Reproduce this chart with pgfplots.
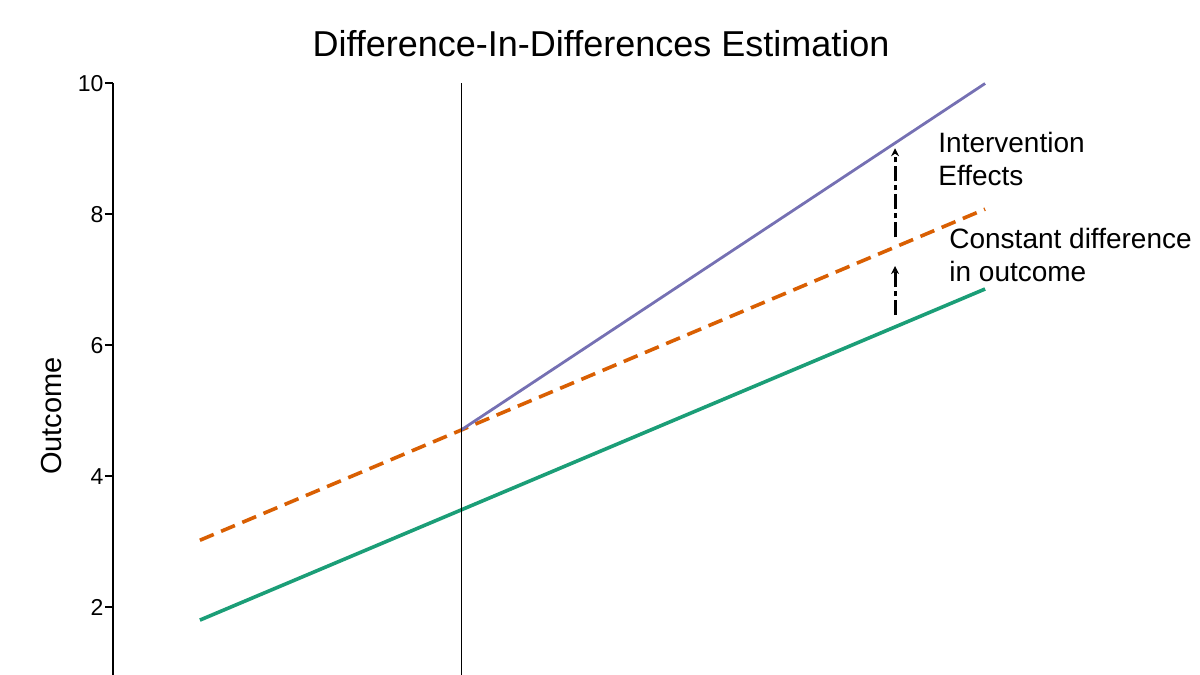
\documentclass[border=0pt]{standalone}
\usepackage{pgfplots}
\pgfplotsset{compat=1.18}
\usepackage{fontspec}
\setmainfont{Liberation Sans}
\usetikzlibrary{arrows.meta}

\definecolor{dtgreen}{HTML}{1B9E77}
\definecolor{dtorange}{HTML}{D95F02}
\definecolor{dtpurple}{HTML}{7570B3}

\begin{document}
\begin{tikzpicture}
\begin{axis}[
    at={(56.5pt,0pt)}, anchor=south west,
    scale only axis,
    width=543.5pt, height=295.75pt,
    xmin=0.668, xmax=4.821,
    ymin=0.961, ymax=10,
    axis x line=none,
    axis y line=left,
    y axis line style={-, line width=1pt},
    ytick={2,4,6,8,10},
    tick align=outside,
    major tick length=4pt,
    tick style={line width=1pt, black},
    yticklabel style={inner sep=0.6pt, font=\fontsize{11.5}{13}\selectfont},
    /pgf/number format/assume math mode=true,
    clip=false,
]
% control group
\addplot[dtgreen, line width=1.8pt] coordinates {(1,1.80) (4,6.86)};
% counterfactual
\addplot[dtorange, line width=1.8pt, dash pattern=on 7.5pt off 4pt] coordinates {(1,3.02) (4,8.08)};
% treatment group after intervention
\addplot[dtpurple, line width=1.4pt] coordinates {(2,4.71) (4,10.0)};
% intervention time
\addplot[black, line width=0.7pt] coordinates {(2,0.961) (2,10)};

\draw[black, line width=1.5pt, dash pattern=on 7.5pt off 2pt on 2.5pt off 2pt, -{Stealth[length=4pt,width=4pt]}]
    (axis cs:3.656,7.65) -- (axis cs:3.656,9.01);
\draw[black, line width=1.5pt, dash pattern=on 7.5pt off 2pt on 2.5pt off 2pt, -{Stealth[length=4pt,width=4pt]}]
    (axis cs:3.656,6.46) -- (axis cs:3.656,7.21);

\begin{scope}[every node/.style={inner sep=0pt, anchor=base west, font=\fontsize{14}{16}\selectfont}]
\node at (axis cs:3.820,8.953) {Intervention};
\node at (axis cs:3.820,8.434) {Effects};
\node at (axis cs:3.862,7.486) {Constant difference};
\node at (axis cs:3.862,6.967) {in outcome};
\end{scope}
\end{axis}
\node[anchor=base, inner sep=0pt, font=\fontsize{18}{20}\selectfont] at (300.5pt,309pt) {Difference-In-Differences Estimation};
\node[rotate=90, inner sep=0pt, font=\fontsize{14.5}{16}\selectfont] at (26pt,129.5pt) {Outcome};
\pgfresetboundingbox
\useasboundingbox (0,0) rectangle (600pt,337.5pt);
\end{tikzpicture}
\end{document}
